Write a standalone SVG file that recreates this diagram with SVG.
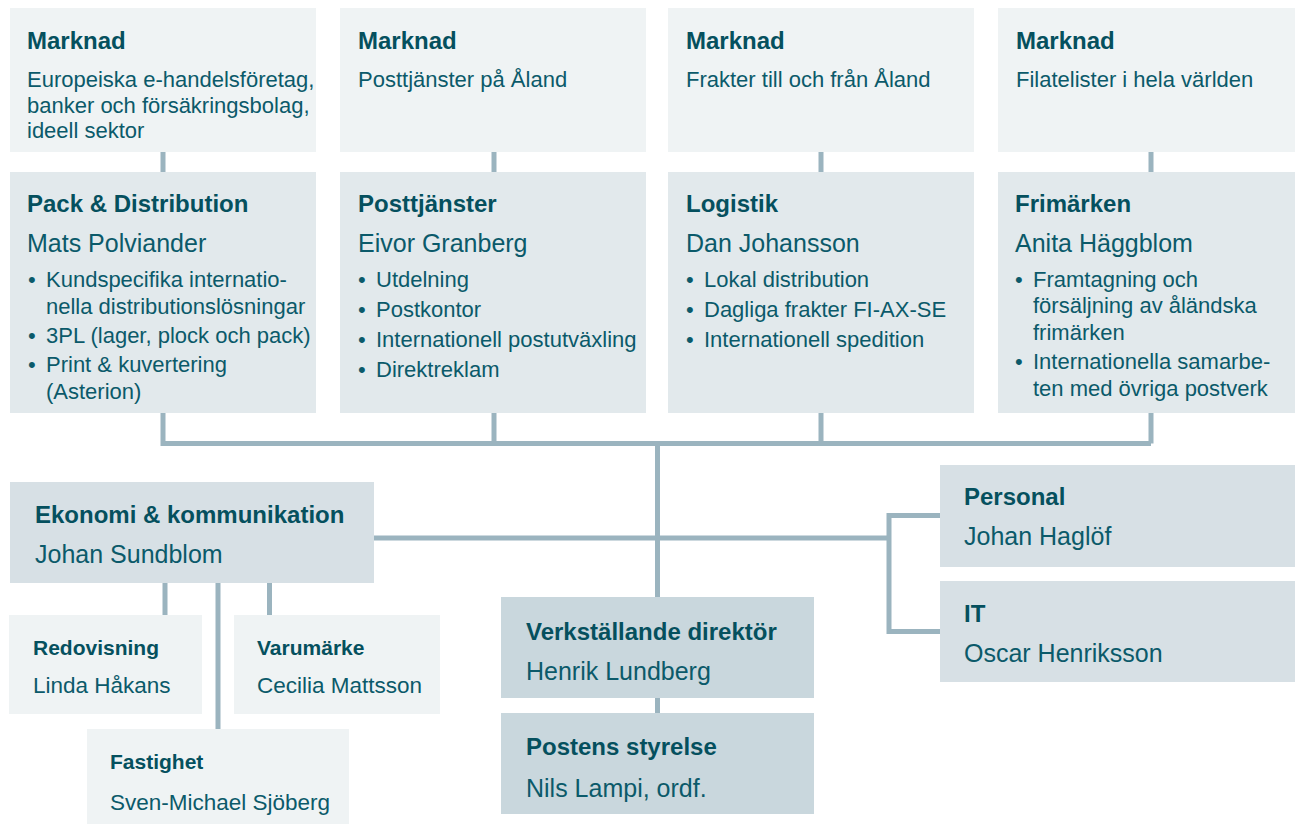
<svg xmlns="http://www.w3.org/2000/svg" width="1295" height="824" viewBox="0 0 1295 824">
<style>
text{font-family:"Liberation Sans",Arial,sans-serif;fill:#0b5a6a}
.t{font-size:24px;font-weight:bold;fill:#05505e}
.n{font-size:25px}
.b{font-size:22px}
.st{font-size:21px;font-weight:bold;fill:#05505e}
.sn{font-size:22.5px}
.m{fill:#eff3f4}
.u{fill:#e2e9ec}
.e{fill:#d7e0e5}
.v{fill:#c9d7dd}
.c{stroke:#9bb4bf;stroke-width:5;fill:none}
</style>
<rect width="1295" height="824" fill="#ffffff"/>
<g id="connectors">
<path class="c" d="M163 152V172M494 152V172M821 152V172M1151 152V172"/>
<path class="c" d="M163 413V443.5H1151M494 413V443.5M821 413V443.5M1151 413V443.5"/>
<path class="c" d="M657.5 443.5V597M657.5 698V713"/>
<path class="c" d="M374 538H889M889 515.5V631.5M886.5 515.5H940M886.5 631.5H940"/>
<path class="c" d="M165 583V615M218 583V729M269.5 583V615"/>
</g>
<g id="marknad1"><rect class="m" x="10" y="8" width="306" height="144"/><text class="t" x="27" y="49">Marknad</text><text class="b" x="27" y="87">Europeiska e-handelsföretag,</text><text class="b" x="27" y="112.5">banker och försäkringsbolag,</text><text class="b" x="27" y="138">ideell sektor</text></g>
<g id="marknad2"><rect class="m" x="340" y="8" width="306" height="144"/><text class="t" x="358" y="49">Marknad</text><text class="b" x="358" y="87">Posttjänster på Åland</text></g>
<g id="marknad3"><rect class="m" x="668" y="8" width="306" height="144"/><text class="t" x="686" y="49">Marknad</text><text class="b" x="686" y="87">Frakter till och från Åland</text></g>
<g id="marknad4"><rect class="m" x="998" y="8" width="297" height="144"/><text class="t" x="1016" y="49">Marknad</text><text class="b" x="1016" y="87">Filatelister i hela världen</text></g>
<g id="pack"><rect class="u" x="10" y="172" width="306" height="241"/><text class="t" x="27" y="212">Pack &amp; Distribution</text><text class="n" x="27" y="252">Mats Polviander</text>
<text class="b" x="28" y="287">•</text><text class="b" x="46" y="287">Kundspecifika internatio-</text><text class="b" x="46" y="314">nella distributionslösningar</text>
<text class="b" x="28" y="343">•</text><text class="b" x="46" y="343">3PL (lager, plock och pack)</text>
<text class="b" x="28" y="372">•</text><text class="b" x="46" y="372">Print &amp; kuvertering</text><text class="b" x="46" y="399">(Asterion)</text></g>
<g id="posttjanster"><rect class="u" x="340" y="172" width="306" height="241"/><text class="t" x="358" y="212">Posttjänster</text><text class="n" x="358" y="252">Eivor Granberg</text>
<text class="b" x="358" y="287">•</text><text class="b" x="376" y="287">Utdelning</text>
<text class="b" x="358" y="317">•</text><text class="b" x="376" y="317">Postkontor</text>
<text class="b" x="358" y="347">•</text><text class="b" x="376" y="347">Internationell postutväxling</text>
<text class="b" x="358" y="377">•</text><text class="b" x="376" y="377">Direktreklam</text></g>
<g id="logistik"><rect class="u" x="668" y="172" width="306" height="241"/><text class="t" x="686" y="212">Logistik</text><text class="n" x="686" y="252">Dan Johansson</text>
<text class="b" x="686" y="287">•</text><text class="b" x="704" y="287">Lokal distribution</text>
<text class="b" x="686" y="317">•</text><text class="b" x="704" y="317">Dagliga frakter FI-AX-SE</text>
<text class="b" x="686" y="347">•</text><text class="b" x="704" y="347">Internationell spedition</text></g>
<g id="frimarken"><rect class="u" x="998" y="172" width="297" height="241"/><text class="t" x="1015" y="212">Frimärken</text><text class="n" x="1015" y="252">Anita Häggblom</text>
<text class="b" x="1015" y="287">•</text><text class="b" x="1033" y="287">Framtagning och</text><text class="b" x="1033" y="313">försäljning av åländska</text><text class="b" x="1033" y="340">frimärken</text>
<text class="b" x="1015" y="369">•</text><text class="b" x="1033" y="369">Internationella samarbe-</text><text class="b" x="1033" y="396">ten med övriga postverk</text></g>
<g id="ekonomi"><rect class="e" x="10" y="482" width="364" height="101"/><text class="t" x="35" y="523">Ekonomi &amp; kommunikation</text><text class="n" x="35" y="563">Johan Sundblom</text></g>
<g id="redovisning"><rect class="m" x="9" y="615" width="193" height="99"/><text class="st" x="33" y="655">Redovisning</text><text class="sn" x="33" y="693">Linda Håkans</text></g>
<g id="varumarke"><rect class="m" x="234" y="615" width="206" height="99"/><text class="st" x="257" y="655">Varumärke</text><text class="sn" x="257" y="693">Cecilia Mattsson</text></g>
<g id="fastighet"><rect class="m" x="87" y="729" width="262" height="95"/><text class="st" x="110" y="769">Fastighet</text><text class="sn" x="110" y="810">Sven-Michael Sjöberg</text></g>
<g id="vd"><rect class="v" x="501" y="597" width="313" height="101"/><text class="t" x="526" y="640">Verkställande direktör</text><text class="n" x="526" y="680">Henrik Lundberg</text></g>
<g id="styrelse"><rect class="v" x="501" y="713" width="313" height="101"/><text class="t" x="526" y="755">Postens styrelse</text><text class="n" x="526" y="797">Nils Lampi, ordf.</text></g>
<g id="personal"><rect class="e" x="940" y="465" width="355" height="102"/><text class="t" x="964" y="505">Personal</text><text class="n" x="964" y="545">Johan Haglöf</text></g>
<g id="it"><rect class="e" x="940" y="581" width="355" height="101"/><text class="t" x="964" y="622">IT</text><text class="n" x="964" y="662">Oscar Henriksson</text></g>
</svg>
